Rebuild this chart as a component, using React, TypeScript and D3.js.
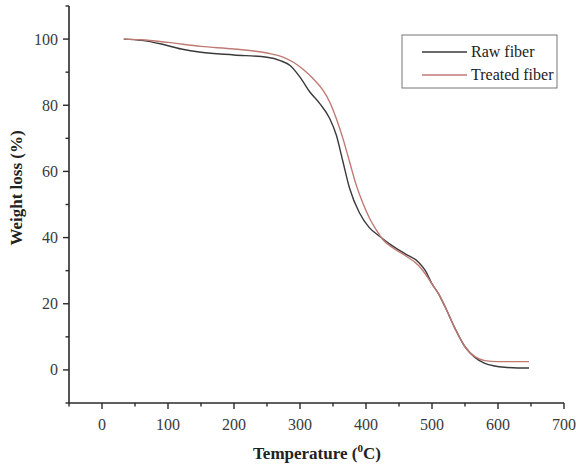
import React from "react";
import * as d3 from "d3";

const rawT = [33, 60, 90, 120, 150, 200, 250, 270, 285, 300, 315, 330, 345, 355, 365, 375, 390, 405, 420, 440, 460, 480, 490, 500, 510, 520, 535, 550, 565, 580, 595, 610, 630, 647];
const rawW = [100, 99.6, 98.5, 97, 96, 95.2, 94.5, 93.5, 92, 88.5, 84, 80.5, 76, 71, 63, 55, 47.5, 43, 40.5, 37.5, 35, 32.5, 30, 26, 23, 19, 12.5, 7, 3.8, 2, 1.2, 0.8, 0.6, 0.6];

const treatedT = [33, 60, 100, 150, 200, 250, 275, 290, 305, 320, 335, 345, 355, 365, 375, 385, 395, 405, 415, 425, 440, 460, 480, 490, 500, 510, 520, 535, 550, 565, 580, 600, 647];
const treatedW = [100, 99.8, 99, 97.8, 97, 95.8, 94.5, 93, 90.8, 88, 84.5, 81, 76, 70, 63, 56, 50.5, 46, 42.5, 39.5, 37, 34.5, 31.5, 29, 26, 23, 19, 12.5, 7, 4, 2.8, 2.5, 2.5];

const xMajor = [0, 100, 200, 300, 400, 500, 600, 700];
const xMinor = [-50, 50, 150, 250, 350, 450, 550, 650];
const yMajor = [0, 20, 40, 60, 80, 100];
const yMinor = [-10, 10, 30, 50, 70, 90, 110];

const seriesNames = ["Raw fiber", "Treated fiber"];
const seriesColors = ["#3a3a3a", "#c07a74"];

export default function App() {
  const x = d3.scaleLinear().domain([-50, 700]).range([69, 564]);
  const y = d3.scaleLinear().domain([-10, 110]).range([403, 6]);
  const line = d3
    .line<[number, number]>()
    .x((d) => x(d[0]))
    .y((d) => y(d[1]))
    .curve(d3.curveMonotoneX);
  const rawData: [number, number][] = rawT.map((t, i) => [t, rawW[i]]);
  const treatedData: [number, number][] = treatedT.map((t, i) => [t, treatedW[i]]);
  const axisColor = "#2a2a2a";
  const font = "'Liberation Serif', 'Times New Roman', serif";
  return (
    <svg width={576} height={468} style={{ position: "absolute", left: 0, top: 0, background: "#fff" }} fontFamily={font}>
      <rect x={0} y={0} width={576} height={468} fill="#fff" />
      {/* axes */}
      <line x1={69} y1={y(110)} x2={69} y2={y(-10)} stroke={axisColor} strokeWidth={1.6} />
      <line x1={x(-50)} y1={403} x2={x(700)} y2={403} stroke={axisColor} strokeWidth={1.6} />
      {yMajor.map((v) => (
        <g key={"ym" + v}>
          <line x1={63} x2={69} y1={y(v)} y2={y(v)} stroke={axisColor} strokeWidth={1.4} />
          <text x={58} y={y(v) + 5.5} textAnchor="end" fontSize={16} fill="#3a3a3a">{v}</text>
        </g>
      ))}
      {yMinor.map((v) => (
        <line key={"yn" + v} x1={65.5} x2={69} y1={y(v)} y2={y(v)} stroke={axisColor} strokeWidth={1.4} />
      ))}
      {xMajor.map((v) => (
        <g key={"xm" + v}>
          <line x1={x(v)} x2={x(v)} y1={403} y2={409} stroke={axisColor} strokeWidth={1.4} />
          <text x={x(v)} y={430} textAnchor="middle" fontSize={16} fill="#3a3a3a">{v}</text>
        </g>
      ))}
      {xMinor.map((v) => (
        <line key={"xn" + v} x1={x(v)} x2={x(v)} y1={403} y2={406.5} stroke={axisColor} strokeWidth={1.4} />
      ))}
      {/* axis titles */}
      <text x={317} y={459} textAnchor="middle" fontSize={17} fontWeight="bold" fill="#222">
        Temperature (<tspan dy={-7} fontSize={11}>0</tspan><tspan dy={7}>C)</tspan>
      </text>
      <text transform="translate(22,188) rotate(-90)" textAnchor="middle" fontSize={17} fontWeight="bold" fill="#222">
        Weight loss (%)
      </text>
      {/* curves */}
      <path d={line(rawData) || ""} fill="none" stroke={seriesColors[0]} strokeWidth={1.4} />
      <path d={line(treatedData) || ""} fill="none" stroke={seriesColors[1]} strokeWidth={1.4} />
      {/* legend */}
      <rect x={402} y={35} width={155} height={53} fill="#fff" stroke="#777" strokeWidth={1} />
      {seriesNames.map((n, i) => (
        <g key={n}>
          <line x1={422} x2={467} y1={52 + i * 23} y2={52 + i * 23} stroke={seriesColors[i]} strokeWidth={1.4} />
          <text x={471} y={57 + i * 23} fontSize={16} fill="#222">{n}</text>
        </g>
      ))}
    </svg>
  );
}
